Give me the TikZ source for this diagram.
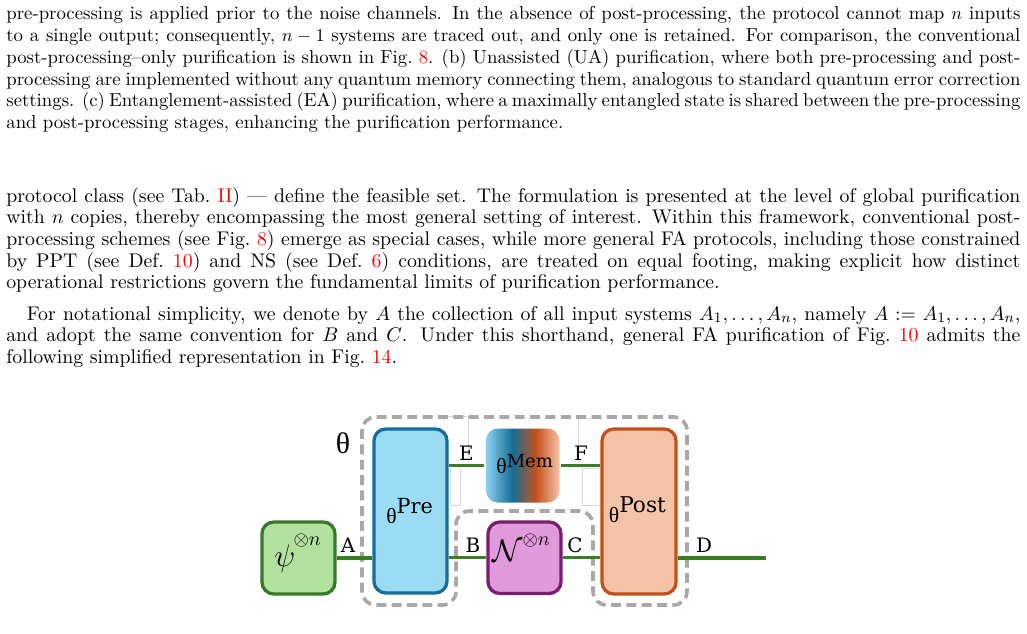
\documentclass[tikz,border=0pt]{standalone}
\usepackage{fontspec}
\usetikzlibrary{calc}
\newfontfamily\djs{DejaVu Serif}
\newfontfamily\lbs{Liberation Serif}
\newcommand\pxu{0.5537pt}
\newcommand\rf[1]{\textcolor{red}{#1}}
\newcommand\tune{\tolerance=10000\pretolerance=-1\hyphenpenalty=10000\exhyphenpenalty=10000\relax}
\definecolor{wire}{RGB}{58,125,35}
\definecolor{psifill}{RGB}{178,224,158}
\definecolor{psiline}{RGB}{55,122,38}
\definecolor{prefill}{RGB}{153,220,243}
\definecolor{preline}{RGB}{22,108,155}
\definecolor{nfill}{RGB}{224,153,219}
\definecolor{nline}{RGB}{120,30,110}
\definecolor{postfill}{RGB}{245,195,168}
\definecolor{postline}{RGB}{195,80,25}
\definecolor{dashgray}{RGB}{168,168,168}
\definecolor{faint}{RGB}{215,215,215}
\definecolor{mA}{RGB}{140,210,240}
\definecolor{mB}{RGB}{20,108,150}
\definecolor{mC}{RGB}{195,82,25}
\definecolor{mD}{RGB}{245,196,170}
\pgfdeclarehorizontalshading{memshade}{100bp}{color(0bp)=(mA); color(25bp)=(mA); color(43bp)=(mB); color(59bp)=(mC); color(75bp)=(mD); color(100bp)=(mD)}
\tikzset{
  box/.style={rounded corners=6.5pt, line width=1.8pt, inner sep=0pt},
  boxtext/.style={anchor=base west, inner sep=0pt},
  wirestyle/.style={draw=wire, line width=1.9pt},
  lbl/.style={font=\djs\fontsize{11}{12}\selectfont, anchor=base, inner sep=0pt},
  captext/.style={anchor=base west, inner sep=0pt, text width=561.5pt, align=justify, font=\fontsize{10.4}{12}\selectfont},
  bodytext/.style={anchor=base west, inner sep=0pt, text width=561.5pt, align=justify, font=\fontsize{10.95}{12}\selectfont},
  region/.style={draw=dashgray, line width=2pt, dash pattern=on 5.5pt off 3pt, rounded corners=7.5pt},
  faintline/.style={draw=faint, line width=0.5pt}
}
\newcommand\thgl{{\lbs\fontsize{12}{13}\selectfont θ}}
\begin{document}
\begin{tikzpicture}[x=0.5537pt, y=-0.5537pt]
\useasboundingbox (0,0) rectangle (1027,634);

% text
\node[captext] (p1) at (6,20) {\tune\noindent pre-processing is applied prior to the noise channels. In the absence of post-processing, the protocol cannot map $n$ inputs\linebreak
to a single output; consequently, $n-1$ systems are traced out, and only one is retained. For comparison, the conventional\linebreak
post-processing--only purification is shown in Fig.~\rf{8}. (b) Unassisted (UA) purification, where both pre-processing and post-\linebreak
processing are implemented without any quantum memory connecting them, analogous to standard quantum error correction\linebreak
settings. (c) Entanglement-assisted (EA) purification, where a maximally entangled state is shared between the pre-processing\linebreak
and post-processing stages, enhancing the purification performance.};

\node[bodytext] (p2) at (6,202.3) {\tune\noindent protocol class (see Tab.~\rf{II}) --- define the feasible set. The formulation is presented at the level of global purification\linebreak
with $n$ copies, thereby encompassing the most general setting of interest. Within this framework, conventional post-\linebreak
processing schemes (see Fig.~\rf{8}) emerge as special cases, while more general FA protocols, including those constrained\linebreak
by PPT (see Def.~\rf{10}) and NS (see Def.~\rf{6}) conditions, are treated on equal footing, making explicit how distinct\linebreak
operational restrictions govern the fundamental limits of purification performance.};

\node[bodytext] (p3) at (6,320) {\tune\noindent\hspace*{11.4pt}For notational simplicity, we denote by $A$ the collection of all input systems $A_1,\ldots,A_n$, namely $A:=A_1,\ldots,A_n$,\linebreak
and adopt the same convention for $B$ and $C$. Under this shorthand, general FA purification of Fig.~\rf{10} admits the\linebreak
following simplified representation in Fig.~\rf{14}.};

% faint outlines
\draw[faintline] (443,422) -- (443,416) -- (468,416) -- (468,463);
\draw[faintline] (450,468) -- (450,505) -- (460,505) -- (460,468);
\draw[faintline] (603,418) -- (578,418) -- (578,463);
\draw[faintline] (600,468) -- (582,468) -- (582,505) -- (601,505);

% dashed region theta
\draw[region] (362,560) -- (362,417) -- (687,417) -- (687,605) -- (593,605) -- (593,511) -- (456,511) -- (456,605) -- (362,605) -- cycle;

% boxes
\node[box, fill=psifill, draw=psiline, minimum width=73*\pxu, minimum height=72*\pxu] (psi) at (298.5,558) {};
\node[box, fill=prefill, draw=preline, minimum width=73*\pxu, minimum height=164*\pxu] (pre) at (410.5,511) {};
\node[box, shade, shading=memshade, minimum width=73.5*\pxu, minimum height=74*\pxu] (mem) at (522.75,465.5) {};
\node[box, fill=nfill, draw=nline, minimum width=73*\pxu, minimum height=71.5*\pxu] (noise) at (524.5,557.75) {};
\node[box, fill=postfill, draw=postline, minimum width=74*\pxu, minimum height=165*\pxu] (post) at (639,511.5) {};

% box contents
\node[boxtext] (psitext) at (274,566) {\fontsize{17}{19}\selectfont$\psi$\kern-1pt\raisebox{11.3pt}{\fontsize{11}{12}\selectfont$\otimes n$}};
\node[boxtext] (noisetext) at (492,561.5) {\fontsize{17.5}{19}\selectfont$\mathcal{N}$\raisebox{9.1pt}{\fontsize{11}{12}\selectfont$\otimes n$}};
\node[boxtext] (pretext) at (386,523) {\thgl\raisebox{5.5pt}{\djs\fontsize{11.5}{12}\selectfont Pre}};
\node[boxtext] (memtext) at (496,473) {\thgl\raisebox{3.3pt}{\djs\fontsize{10}{12}\selectfont Mem}};
\node[boxtext] (posttext) at (608.5,522) {\thgl\raisebox{5pt}{\djs\fontsize{12}{13}\selectfont Post}};

\node[font=\lbs\fontsize{16.5}{18}\selectfont, inner sep=0pt] (thetalbl) at (343,443) {θ};

% wires
\coordinate (dend) at (766,558);
\draw[wirestyle] (psi.east) -- (psi.east -| pre.west);
\draw[wirestyle] (pre.east |- mem.west) -- (mem.west);
\draw[wirestyle] (mem.east) -- (mem.east -| post.west);
\draw[wirestyle] (pre.east |- noise.west) -- (noise.west);
\draw[wirestyle] (noise.east) -- (noise.east -| post.west);
\draw[wirestyle] (post.east |- dend) -- (dend);

% labels
\node[lbl] (la) at (348,552) {A};
\node[lbl] (lb) at (473,552) {B};
\node[lbl] (lc) at (575,552) {C};
\node[lbl] (ld) at (704,552) {D};
\node[lbl] (le) at (466.3,460) {E};
\node[lbl] (lf) at (581,460) {F};
\end{tikzpicture}
\end{document}
